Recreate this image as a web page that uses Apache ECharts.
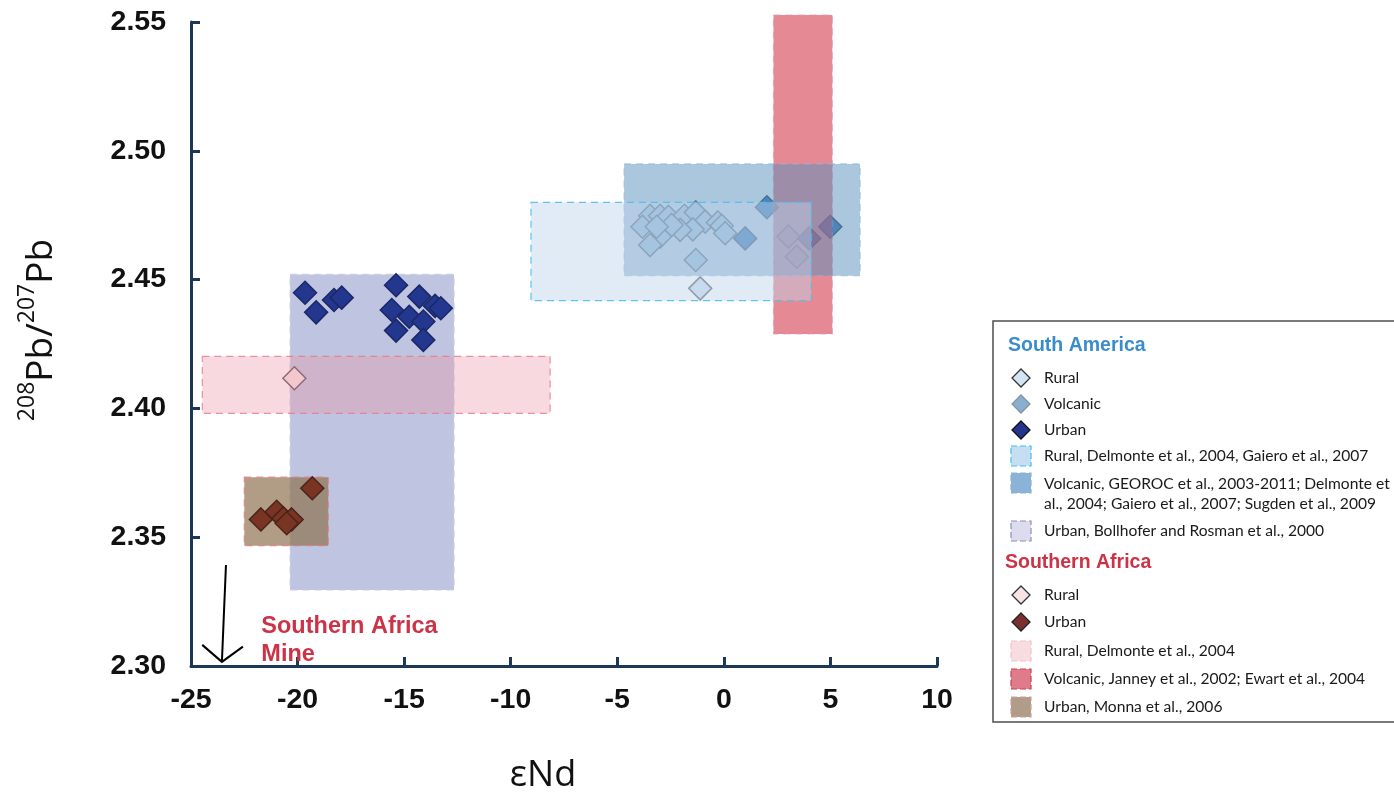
<!DOCTYPE html>
<html>
<head>
<meta charset="utf-8">
<title>208Pb/207Pb vs εNd</title>
<script src="https://cdn.jsdelivr.net/npm/echarts@6/dist/echarts.min.js"></script>
<style>
  html, body { margin: 0; padding: 0; background: #fff; }
  #chart { width: 1394px; height: 797px; }
</style>
</head>
<body>
<div id="chart"></div>
<script>
// Axis ticks
const xTicks = [-25, -20, -15, -10, -5, 0, 5, 10];
const yTicks = [2.30, 2.35, 2.40, 2.45, 2.50, 2.55];

// Samples: [εNd, 208Pb/207Pb]
const saRural = [
  [-3.46, 2.4748], [-3.82, 2.4705], [-2.99, 2.4748], [-2.60, 2.4744], [-1.85, 2.4748],
  [-1.32, 2.4761], [-0.88, 2.4725], [-0.28, 2.4722], [-0.10, 2.4709], [0.06, 2.4680],
  [-1.46, 2.4695], [-2.05, 2.4693], [-2.99, 2.4667], [-3.46, 2.4634], [-2.45, 2.4712],
  [-3.15, 2.4705], [-1.32, 2.4576], [-1.11, 2.4466], [3.03, 2.4667], [3.42, 2.4589]
];
const saVolcanic = [[1.00, 2.4660], [2.02, 2.4781], [4.00, 2.4660], [4.99, 2.4705]];
const saUrban = [
  [-19.65, 2.4449], [-19.13, 2.4373], [-18.29, 2.4421], [-17.93, 2.4430], [-15.38, 2.4478],
  [-14.29, 2.4434], [-15.58, 2.4382], [-14.76, 2.4356], [-13.55, 2.4398], [-13.28, 2.4389],
  [-14.10, 2.4337], [-15.38, 2.4302], [-14.10, 2.4266]
];
const safRural = [[-20.15, 2.4117]];
const safUrban = [
  [-19.31, 2.3690], [-21.72, 2.3569], [-20.98, 2.3599], [-20.67, 2.3573], [-20.28, 2.3569], [-20.51, 2.3554]
];

// Literature fields: [εNd min, εNd max, ratio min, ratio max]
const saRuralField = [-9.05, 4.10, 2.4418, 2.4800];
const saVolcanicField = [-4.68, 6.39, 2.4515, 2.4949];
const saUrbanField = [-20.35, -12.66, 2.3295, 2.4520];
const safRuralField = [-24.47, -8.15, 2.3981, 2.4202];
const safVolcanicField = [2.33, 5.09, 2.4289, 2.5527];
const safUrbanField = [-22.50, -18.56, 2.3467, 2.3733];

// Mine annotation arrow: [start, end]
const mineArrow = [[-23.36, 2.3392], [-23.55, 2.3016]];
const mineLabelAt = [-21.70, 2.3098];

const chart = echarts.init(document.getElementById('chart'), null, { renderer: 'canvas' });

function fieldSeries(name, box, fill, stroke, z) {
  return {
    name: name,
    type: 'custom',
    z: z,
    silent: true,
    clip: false,
    data: [box],
    encode: { x: [0, 1], y: [2, 3] },
    renderItem: function (params, api) {
      const p0 = api.coord([api.value(0), api.value(3)]);
      const p1 = api.coord([api.value(1), api.value(2)]);
      return {
        type: 'rect',
        shape: { x: p0[0], y: p0[1], width: p1[0] - p0[0], height: p1[1] - p0[1] },
        style: { fill: fill, stroke: stroke, lineWidth: 1.2, lineDash: [7, 5] }
      };
    }
  };
}

function pointSeries(name, data, fill, border, z) {
  return {
    name: name,
    type: 'scatter',
    z: z,
    symbol: 'diamond',
    symbolSize: 23,
    data: data,
    itemStyle: { color: fill, borderColor: border, borderWidth: 1.5, opacity: 1 },
    emphasis: { disabled: true }
  };
}

const axisColor = '#1d3857';
const tickFont = { fontFamily: 'Liberation Sans, Arial, sans-serif', fontWeight: 'bold', fontSize: 28.5, color: '#111' };

// Legend block
const legendTextStyle = { fontFamily: 'Lato, sans-serif', fontSize: 15.6, fill: '#1a1a1a' };
function legendDiamond(cy, fill, stroke) {
  return {
    type: 'polygon',
    shape: { points: [[1021, cy - 9], [1030, cy], [1021, cy + 9], [1012, cy]] },
    style: { fill: fill, stroke: stroke, lineWidth: 1.3 }
  };
}
function legendSquare(cy, fill, stroke) {
  return {
    type: 'rect',
    shape: { x: 1011, y: cy - 10, width: 20, height: 20 },
    style: { fill: fill, stroke: stroke, lineWidth: 1.2, lineDash: [6, 3] }
  };
}
function legendText(cy, text) {
  return {
    type: 'text',
    style: Object.assign({ x: 1044, y: cy, text: text, verticalAlign: 'middle', lineHeight: 20 }, legendTextStyle)
  };
}

const legendGraphics = [
  { type: 'rect', shape: { x: 993, y: 321, width: 420, height: 401 }, style: { fill: '#fff', stroke: '#4d4d4d', lineWidth: 1.5 } },
  { type: 'text', style: { x: 1008, y: 346, text: 'South America', verticalAlign: 'middle', fontFamily: 'Liberation Sans, Arial, sans-serif', fontWeight: 'bold', fontSize: 19.5, fill: '#3a8dcc' } },
  legendDiamond(378, '#d3e5f5', '#333'), legendText(378, 'Rural'),
  legendDiamond(404, '#8aaed0', '#8393a5'), legendText(404, 'Volcanic'),
  legendDiamond(430, '#25358f', '#111'), legendText(430, 'Urban'),
  legendSquare(456, '#c6def1', '#3fc0f0'), legendText(456, 'Rural, Delmonte et al., 2004, Gaiero et al., 2007'),
  legendSquare(483, '#8ab3d7', '#8ab3d7'), legendText(494, 'Volcanic, GEOROC et al., 2003-2011; Delmonte et\nal., 2004; Gaiero et al., 2007; Sugden et al., 2009'),
  legendSquare(531, '#dcdcee', '#8d8db8'), legendText(531, 'Urban, Bollhofer and Rosman et al., 2000'),
  { type: 'text', style: { x: 1005, y: 563, text: 'Southern Africa', verticalAlign: 'middle', fontFamily: 'Liberation Sans, Arial, sans-serif', fontWeight: 'bold', fontSize: 19.5, fill: '#cc3346' } },
  legendDiamond(595, '#f8e4e4', '#333'), legendText(595, 'Rural'),
  legendDiamond(622, '#7b3030', '#222'), legendText(622, 'Urban'),
  legendSquare(651, '#f8dde0', '#f3c0c8'), legendText(651, 'Rural, Delmonte et al., 2004'),
  legendSquare(679, '#e07c8a', '#cf3d55'), legendText(679, 'Volcanic, Janney et al., 2002; Ewart et al., 2004'),
  legendSquare(707, '#b19c88', '#c9a4a0'), legendText(707, 'Urban, Monna et al., 2006')
];

const option = {
  animation: false,
  backgroundColor: '#fff',
  grid: { left: 191, top: 22, right: 457, bottom: 131, containLabel: false, outerBoundsMode: 'none' },
  xAxis: {
    type: 'value',
    min: xTicks[0], max: xTicks[xTicks.length - 1], interval: 5,
    axisLine: { onZero: false, lineStyle: { color: axisColor, width: 3 } },
    axisTick: { inside: true, length: 9, lineStyle: { color: axisColor, width: 3 } },
    splitLine: { show: false },
    axisLabel: Object.assign({ margin: 20 }, tickFont)
  },
  yAxis: {
    type: 'value',
    min: yTicks[0], max: yTicks[yTicks.length - 1], interval: 0.05,
    axisLine: { onZero: false, lineStyle: { color: axisColor, width: 3 } },
    axisTick: { inside: true, length: 9, lineStyle: { color: axisColor, width: 3 } },
    splitLine: { show: false },
    axisLabel: Object.assign({ margin: 25, formatter: function (v) { return v.toFixed(2); } }, tickFont)
  },
  graphic: [
    {
      type: 'text',
      x: 37, y: 330,
      rotation: Math.PI / 2,
      style: {
        text: '{s|208}{b|Pb/}{s|207}{b|Pb}',
        align: 'center', verticalAlign: 'middle',
        rich: {
          b: { fontFamily: 'Open Sans, sans-serif', fontSize: 37, fill: '#111', lineHeight: 46, verticalAlign: 'bottom' },
          s: { fontFamily: 'Open Sans, sans-serif', fontSize: 23, fill: '#111', lineHeight: 46, verticalAlign: 'top', padding: [2, 0, 0, 0] }
        }
      }
    },
    {
      type: 'text',
      x: 543, y: 776,
      style: { text: 'εNd', align: 'center', verticalAlign: 'middle', fontFamily: 'Open Sans, sans-serif', fontSize: 36, fill: '#111' }
    }
  ].concat(legendGraphics),
  series: [
    fieldSeries('Urban, Bollhofer and Rosman', saUrbanField, 'rgba(122,132,190,0.48)', 'rgba(200,204,228,0.9)', 1),
    fieldSeries('Urban, Monna', safUrbanField, 'rgba(140,110,75,0.68)', 'rgba(230,120,130,0.8)', 1),
    pointSeries('SA Urban', saUrban, '#23378f', '#1a2868', 2),
    pointSeries('SAf Rural', safRural, '#f7e3e3', '#555555', 2),
    pointSeries('SAf Urban', safUrban, '#7a3424', '#4a2418', 2),
    pointSeries('SA Rural', saRural, '#cfe0f2', '#6f6f6f', 2),
    pointSeries('SA Volcanic', saVolcanic, '#3d7fbf', '#444b5a', 2),
    fieldSeries('Rural, Delmonte 2004', safRuralField, 'rgba(235,150,165,0.36)', 'rgba(230,120,140,0.8)', 4),
    fieldSeries('Volcanic, Janney; Ewart', safVolcanicField, 'rgba(215,75,90,0.65)', 'rgba(220,140,170,0.6)', 3),
    fieldSeries('Volcanic, GEOROC', saVolcanicField, 'rgba(87,143,189,0.5)', 'rgba(140,185,220,0.7)', 4),
    fieldSeries('Rural, Delmonte; Gaiero', saRuralField, 'rgba(189,211,235,0.45)', 'rgba(80,190,235,0.9)', 5),
    {
      name: 'Mine arrow',
      type: 'custom',
      z: 6,
      silent: true,
      clip: false,
      data: [[mineArrow[0][0], mineArrow[0][1], mineArrow[1][0], mineArrow[1][1]]],
      encode: { x: [0, 2], y: [1, 3] },
      renderItem: function (params, api) {
        const a = api.coord([api.value(0), api.value(1)]);
        const b = api.coord([api.value(2), api.value(3)]);
        const ang = Math.atan2(a[1] - b[1], a[0] - b[0]);
        const len = 26, spread = 0.9;
        const l = [b[0] + len * Math.cos(ang - spread), b[1] + len * Math.sin(ang - spread)];
        const r = [b[0] + len * Math.cos(ang + spread), b[1] + len * Math.sin(ang + spread)];
        return {
          type: 'group',
          children: [
            { type: 'line', shape: { x1: a[0], y1: a[1], x2: b[0], y2: b[1] }, style: { stroke: '#000', lineWidth: 2 } },
            { type: 'polyline', shape: { points: [l, b, r] }, style: { stroke: '#000', lineWidth: 2, fill: null } }
          ]
        };
      }
    },
    {
      name: 'Mine label',
      type: 'custom',
      z: 6,
      silent: true,
      clip: false,
      data: [mineLabelAt],
      renderItem: function (params, api) {
        const p = api.coord([api.value(0), api.value(1)]);
        return {
          type: 'text',
          x: p[0], y: p[1],
          style: {
            text: 'Southern Africa\nMine',
            fontFamily: 'Liberation Sans, Arial, sans-serif', fontWeight: 'bold', fontSize: 23.5,
            lineHeight: 28, fill: '#cc3346', align: 'left', verticalAlign: 'middle'
          }
        };
      }
    }
  ]
};

chart.setOption(option);
</script>
</body>
</html>
